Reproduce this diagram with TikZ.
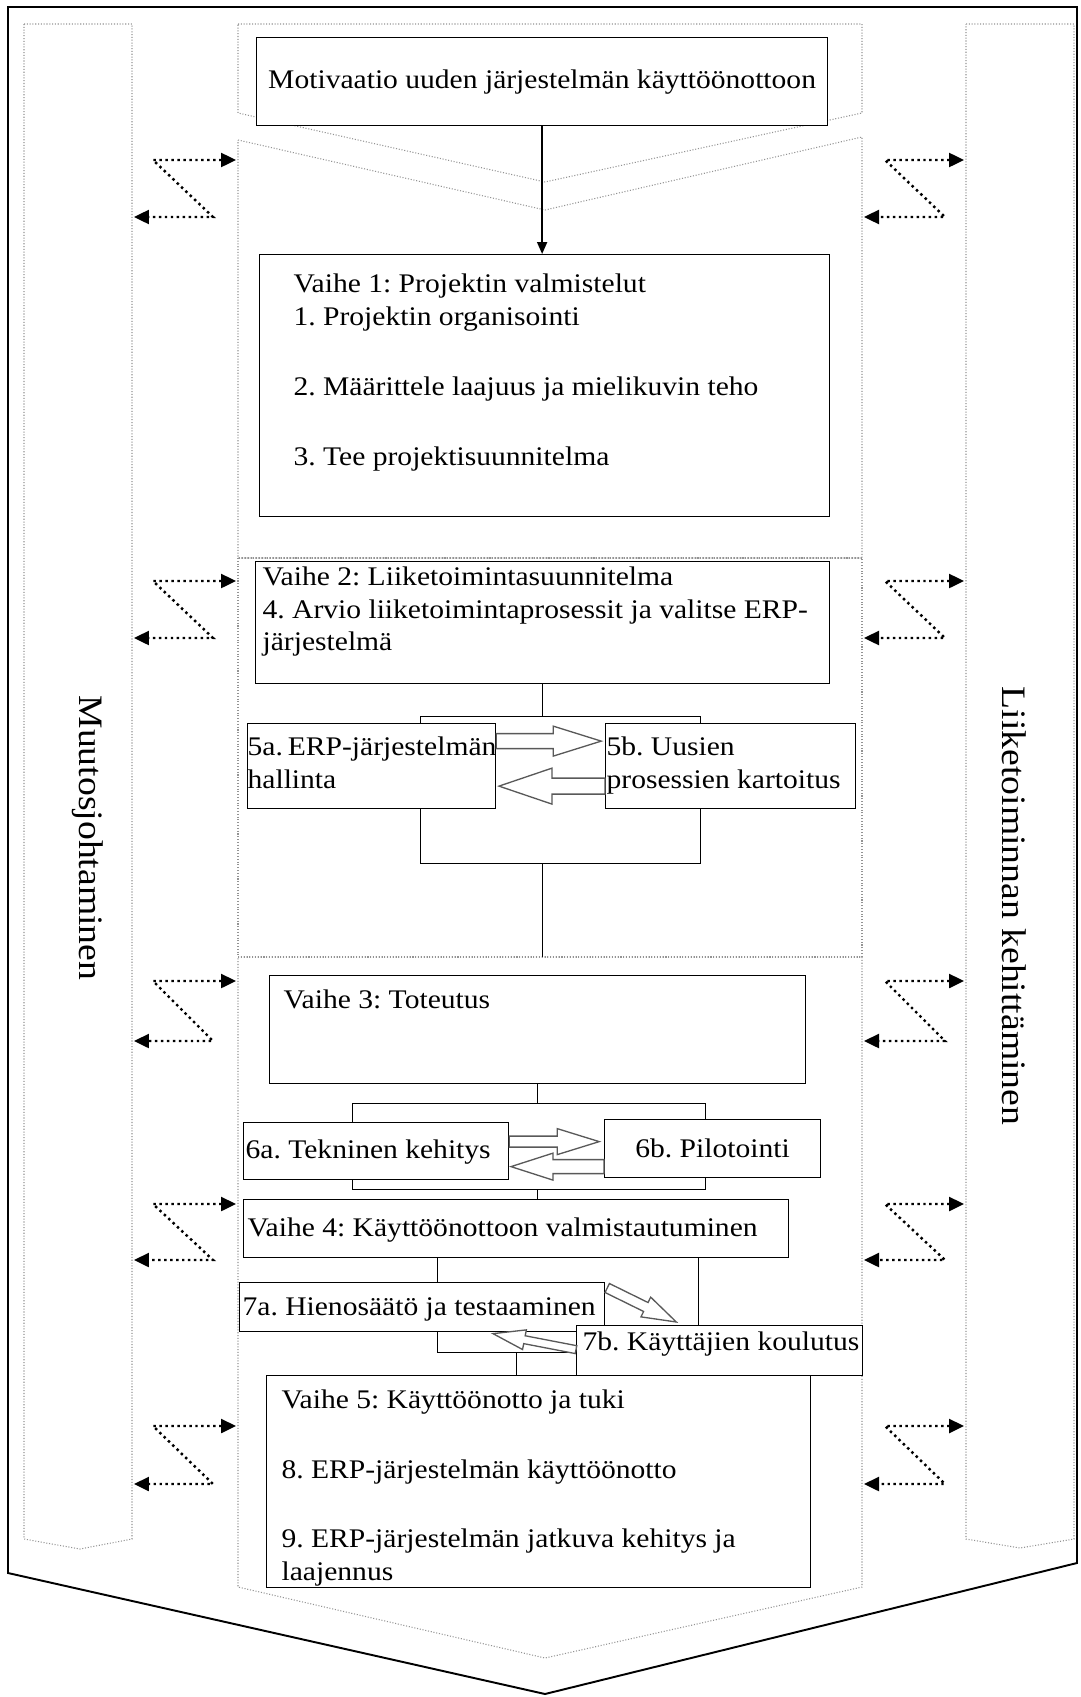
\documentclass[tikz,border=0pt]{standalone}
\usepackage{fontspec}
\setmainfont{Liberation Serif}[FakeStretch=1.1]
\usepackage{tikz}
\usetikzlibrary{arrows.meta, calc}
\frenchspacing

% unidade: 1 pixel da figura
\newdimen\pxu
\pxu=0.02cm
\newcommand{\corpo}{\fontsize{15.3}{18.5}\selectfont}
% texto com altura fixa: largura, altura, recuo, primeira linha, texto
\newcommand{\caixatxt}[5]{\parbox[c][#2\pxu][t]{#1\pxu}{\raggedright\exhyphenpenalty=10000 \setlength{\leftskip}{#3\pxu}\rule{0pt}{#4\pxu}#5}}
% seta larga vazada: origem, angulo, comprimento, cabeca, meia haste, meia cabeca
\newcommand{\setalarga}[6]{%
  \draw[vazada, shift={#1}, rotate=#2] (0,-#5) -- (#3-#4,-#5) -- (#3-#4,-#6) -- (#3,0) -- (#3-#4,#6) -- (#3-#4,#5) -- (0,#5) -- cycle;}

\begin{document}
\begin{tikzpicture}[
    x=0.02cm, y=-0.02cm,
    % caixas principais
    caixa/.style={draw, fill=white, line width=0.7pt, anchor=north west, inner sep=0pt, font=\corpo},
    % retangulos de ligacao atras das caixas
    chave/.style={draw, line width=0.7pt, anchor=north west, inner sep=0pt},
    faixa/.style={draw=gray!85, densely dotted, line width=0.6pt},
    moldura/.style={draw, line width=1.1pt},
    lateral/.style={rotate=-90, inner sep=0pt, font=\fontsize{19.5}{23}\selectfont},
    vazada/.style={draw=black!65, fill=white, line width=0.75pt},
    liga/.style={line width=0.7pt},
    seta/.style={-{Triangle[length=0.24cm, width=0.2cm]}, line width=1.1pt},
    zseta/.style={dotted, line width=1.4pt, {Triangle[length=0.3cm, width=0.28cm]}-{Triangle[length=0.3cm, width=0.28cm]}}
]
\useasboundingbox (0,0) rectangle (1081,1697);

% 1. Moldura e faixas laterais
\draw[moldura] (8,7) -- (1077,7) -- (1077,1563) -- (545,1694) -- (8,1573) -- cycle;
\draw[faixa] (24,24) -- (132,24) -- (132,1539) -- (80,1549) -- (24,1539) -- cycle;
\draw[faixa] (966,24) -- (1074,24) -- (1074,1539) -- (1020,1548) -- (966,1539) -- cycle;
\node[lateral] (muutos) at (88,838) {Muutosjohtaminen};
\node[lateral] (kehitys) at (1014,906) {Liiketoiminnan kehittäminen};

% 2. Coluna central
\draw[faixa] (238,24) -- (862,24) -- (862,113) -- (545,182) -- (238,113) -- cycle;
\draw[faixa] (238,140) -- (545,210) -- (862,137) -- (862,558) -- (238,558) -- cycle;
\draw[faixa] (238,558) rectangle (862,957);
\draw[faixa] (238,957) -- (862,957) -- (862,1587) -- (545,1658) -- (238,1587) -- cycle;
\coordinate (fim3) at (545,957);

% 3. Setas pontilhadas entre faixas e coluna
\foreach \ya/\yb in {160/217, 581/638, 981/1041, 1204/1260, 1426/1484} {
  \draw[zseta] (236,\ya) -- (153,\ya) -- (213,\yb) -- (134,\yb);
  \draw[zseta] (964,\ya) -- (885,\ya) -- (945,\yb) -- (864,\yb);
}

% 4. Chaves (ficam atras das caixas)
\node[chave, minimum width=280*\pxu, minimum height=147*\pxu] (ch5) at (420,716) {};
\node[chave, minimum width=353*\pxu, minimum height=86*\pxu] (ch6) at (352,1103) {};
\node[chave, minimum width=261*\pxu, minimum height=112*\pxu] (ch7) at (437,1240) {};

% 5. Caixas
\node[caixa, minimum width=571*\pxu, minimum height=88*\pxu] (motiv) at (256,37) {Motivaatio uuden järjestelmän käyttöönottoon};

\node[caixa] (fase1) at (259,254) {\caixatxt{570}{262}{34}{38}{Vaihe 1: Projektin valmistelut\\1. Projektin organisointi\\[37.5\pxu]2. Määrittele laajuus ja mielikuvin teho\\[37.5\pxu]3. Tee projektisuunnitelma}};

\node[caixa] (fase2) at (255,561) {\caixatxt{574}{122}{7}{24}{Vaihe 2: Liiketoimintasuunnitelma\\4. Arvio liiketoimintaprosessit ja valitse ERP-\\järjestelmä}};
\node[caixa] (erp5a) at (247,723) {\caixatxt{248}{85}{0}{32}{5a.~ERP-järjestelmän\\hallinta}};
\node[caixa] (erp5b) at (605,723) {\caixatxt{250}{85}{1}{32}{5b. Uusien\\prosessien kartoitus}};

\node[caixa] (fase3) at (269,975) {\caixatxt{536}{108}{14}{33}{Vaihe 3: Toteutus}};
\node[caixa] (tek6a) at (243,1122) {\caixatxt{265}{57}{2}{36}{6a.~Tekninen~kehitys}};
\node[caixa, minimum width=216*\pxu, minimum height=58*\pxu] (pil6b) at (604,1119) {6b. Pilotointi};

\node[caixa] (fase4) at (243,1199) {\caixatxt{545}{58}{4}{37}{Vaihe 4: Käyttöönottoon valmistautuminen}};
\node[caixa] (hie7a) at (239,1282) {\caixatxt{365}{49}{3}{33}{7a. Hienosäätö ja testaaminen}};
\node[caixa] (kou7b) at (576,1325) {\caixatxt{286}{50}{6}{25}{7b.~Käyttäjien~koulutus}};

\node[caixa] (fase5) at (266,1375) {\caixatxt{544}{212}{15}{33}{Vaihe 5: Käyttöönotto ja tuki\\[37.5\pxu]8. ERP-järjestelmän käyttöönotto\\[36.5\pxu]9. ERP-järjestelmän jatkuva kehitys ja\\laajennus}};

% 6. Ligacoes
\draw[seta] (motiv.south) -- (motiv.south |- fase1.north);
\draw[liga] (fase2.south) -- (fase2.south |- ch5.north);
\draw[liga] (fase2.south |- ch5.south) -- (fase2.south |- fim3);
\draw[liga] (fase3.south) -- (fase3.south |- ch6.north);
\draw[liga] (fase3.south |- ch6.south) -- (fase3.south |- fase4.north);
\draw[liga] (fase4.south |- ch7.south) -- (fase4.south |- fase5.north);

% 7. Setas largas entre as subetapas
\setalarga{($(erp5a.east)+(0,-25)$)}{0}{105}{48}{7.5}{15}
\setalarga{($(erp5b.west)+(0,20)$)}{180}{106}{53}{8}{18}
\setalarga{($(tek6a.east)+(0,-9.5)$)}{0}{90}{42}{5.5}{13}
\setalarga{($(pil6b.west)+(0,18)$)}{180}{93}{42}{7}{13.5}
\setalarga{($(hie7a.north east)+(2,6)$)}{-26.2}{77}{34}{5}{11}
\setalarga{($(kou7b.west)+(0,-1)$)}{169.1}{84.5}{32}{4}{10}

\end{tikzpicture}
\end{document}
